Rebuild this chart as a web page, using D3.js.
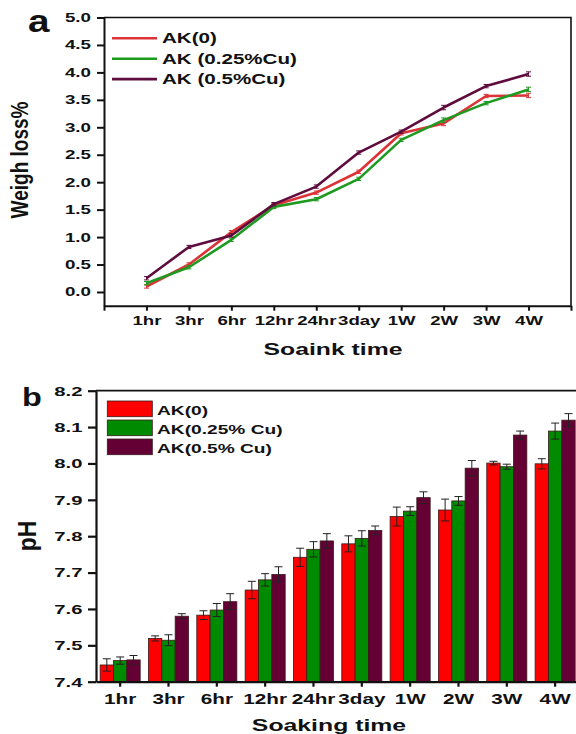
<!DOCTYPE html>
<html>
<head>
<meta charset="utf-8">
<script src="https://cdn.jsdelivr.net/npm/d3@7/dist/d3.min.js"></script>
<style>
  body { margin: 0; background: #fff; }
  svg text { font-family: "Liberation Sans", Arial, sans-serif; font-weight: bold; fill: #111; }
</style>
</head>
<body>
<div id="chart"></div>
<script>
// soaking time categories (shared by both panels)
const times = ["1hr", "3hr", "6hr", "12hr", "24hr", "3day", "1W", "2W", "3W", "4W"];

// panel a: weight loss %
const lossNames = ["AK(0)", "AK (0.25%Cu)", "AK (0.5%Cu)"];
const lossAK0   = [0.10, 0.50, 1.09, 1.58, 1.81, 2.19, 2.89, 3.07, 3.57, 3.58];
const lossAK025 = [0.16, 0.45, 0.95, 1.55, 1.69, 2.06, 2.77, 3.13, 3.44, 3.69];
const lossAK05  = [0.25, 0.82, 1.03, 1.60, 1.92, 2.54, 2.92, 3.36, 3.75, 3.97];
const lossErr   = [0.03, 0.03, 0.03, 0.03, 0.03, 0.03, 0.03, 0.04, 0.03, 0.04];
const lossTicks = [0, 0.5, 1, 1.5, 2, 2.5, 3, 3.5, 4, 4.5, 5];

// panel b: pH
const phNames = ["AK(0)", "AK(0.25% Cu)", "AK(0.5% Cu)"];
const phAK0   = [7.446, 7.519, 7.583, 7.652, 7.742, 7.779, 7.854, 7.872, 8.001, 7.999];
const phAK025 = [7.458, 7.514, 7.597, 7.680, 7.764, 7.794, 7.869, 7.897, 7.991, 8.089];
const phAK05  = [7.460, 7.580, 7.620, 7.695, 7.787, 7.816, 7.906, 7.987, 8.078, 8.119];
const phErrAK0   = [0.017, 0.007, 0.012, 0.024, 0.025, 0.022, 0.026, 0.030, 0.005, 0.014];
const phErrAK025 = [0.010, 0.015, 0.018, 0.017, 0.021, 0.021, 0.012, 0.012, 0.007, 0.022];
const phErrAK05  = [0.012, 0.007, 0.022, 0.021, 0.020, 0.012, 0.016, 0.021, 0.011, 0.018];
const phTicks = [7.4, 7.5, 7.6, 7.7, 7.8, 7.9, 8.0, 8.1, 8.2];

const lineColors = ["#dc3338", "#1f9a20", "#5e0b3d"];
const barColors = ["#ff0000", "#008a00", "#650034"];

const svg = d3.select("#chart").append("svg")
  .attr("width", 576).attr("height", 734);

// the source picture is stretched sideways, so text is scaled in x
function stext(g, x, y, str, size, sx, anchor) {
  return g.append("text")
    .attr("transform", "translate(" + x + "," + y + ") scale(" + sx + ",1)")
    .attr("text-anchor", anchor || "start")
    .style("font-size", size + "px")
    .text(str);
}

// ---------- panel a ----------
let xa = d3.scaleLinear().domain([0, 11]).range([104, 571]);
let ya = d3.scaleLinear().domain([-0.25, 5]).range([305.7, 17.5]);
let ga = svg.append("g");

// frame top/right
ga.append("path")
  .attr("d", "M" + xa(0) + "," + ya(5) + "H" + xa(11) + "V" + ya(-0.25))
  .attr("fill", "none").attr("stroke", "#111").attr("stroke-width", 1.6);

let axA_y = ga.append("g")
  .attr("transform", "translate(" + xa(0) + ",0)")
  .call(d3.axisLeft(ya).tickValues(lossTicks).tickFormat(d3.format(".1f")).tickSize(7).tickSizeOuter(0));
axA_y.selectAll("text")
  .attr("x", -13 / 1.5).attr("transform", "scale(1.5,1)")
  .style("font-size", "12.5px");

let axA_x = ga.append("g")
  .attr("transform", "translate(0," + ya(-0.25) + ")")
  .call(d3.axisBottom(xa).tickValues(d3.range(0, 12)).tickFormat(i => (i >= 1 && i <= 10) ? times[i - 1] : "").tickSize(5).tickSizeOuter(0));
axA_x.selectAll("text")
  .attr("y", 10).attr("transform", "scale(1.43,1)")
  .style("font-size", "13px");
ga.selectAll(".domain, .tick line").attr("stroke", "#111").attr("stroke-width", 2);

[lossAK0, lossAK025, lossAK05].forEach((vals, s) => {
  ga.append("path")
    .datum(vals)
    .attr("fill", "none")
    .attr("stroke", lineColors[s])
    .attr("stroke-width", 2.6)
    .attr("stroke-linejoin", "round")
    .attr("d", d3.line().x((d, i) => xa(i + 1)).y(d => ya(d)));
  ga.append("g").selectAll("path")
    .data(vals)
    .join("path")
    .attr("fill", "none").attr("stroke", lineColors[s]).attr("stroke-width", 1)
    .attr("d", (d, i) => {
      let cx = xa(i + 1), t = ya(d + lossErr[i]), b = ya(d - lossErr[i]);
      return "M" + (cx - 2.5) + "," + t + "H" + (cx + 2.5) + "M" + cx + "," + t + "V" + b + "M" + (cx - 2.5) + "," + b + "H" + (cx + 2.5);
    });
});

// legend a
lossNames.forEach((name, s) => {
  let ly = 38.3 + s * 20.4;
  ga.append("line").attr("x1", 112).attr("x2", 157).attr("y1", ly).attr("y2", ly)
    .attr("stroke", lineColors[s]).attr("stroke-width", 2.6);
  stext(ga, 162, ly + 5, name, 14, 1.47);
});

stext(ga, 28, 32, "a", 31, 1.25);
stext(ga, 333, 355, "Soaink time", 16.5, 1.5, "middle");
ga.append("text")
  .attr("transform", "translate(28.4,160) scale(1.22,1) rotate(-90)")
  .attr("text-anchor", "middle")
  .style("font-size", "19px")
  .text("Weigh loss%");

// ---------- panel b ----------
let xb = d3.scaleBand().domain(times).range([96, 579.3]).padding(0);
let xs = d3.scaleBand().domain([0, 1, 2]).range([0, xb.bandwidth()]).paddingOuter(0.31).paddingInner(0);
let yb = d3.scaleLinear().domain([7.4, 8.2]).range([681.7, 390.7]);
let gb = svg.append("g");

gb.append("line").attr("x1", 96).attr("x2", 580).attr("y1", yb(8.2)).attr("y2", yb(8.2))
  .attr("stroke", "#111").attr("stroke-width", 1.8);

const phVals = [phAK0, phAK025, phAK05];
const phErrs = [phErrAK0, phErrAK025, phErrAK05];
phVals.forEach((vals, s) => {
  gb.append("g").selectAll("rect")
    .data(vals)
    .join("rect")
    .attr("x", (d, i) => xb(times[i]) + xs(s))
    .attr("width", xs.bandwidth())
    .attr("y", d => yb(d))
    .attr("height", d => yb(7.4) - yb(d))
    .attr("fill", barColors[s])
    .attr("stroke", "#3a1a1a").attr("stroke-width", 0.8);
});
phVals.forEach((vals, s) => {
  gb.append("g").selectAll("path")
    .data(vals)
    .join("path")
    .attr("fill", "none").attr("stroke", "#222").attr("stroke-width", 1)
    .attr("d", (d, i) => {
      let cx = xb(times[i]) + xs(s) + xs.bandwidth() / 2;
      let t = yb(d + phErrs[s][i]), b = yb(d - phErrs[s][i]);
      return "M" + (cx - 4) + "," + t + "H" + (cx + 4) + "M" + cx + "," + t + "V" + b + "M" + (cx - 4) + "," + b + "H" + (cx + 4);
    });
});

let axB_y = gb.append("g")
  .attr("transform", "translate(96,0)")
  .call(d3.axisLeft(yb).tickValues(phTicks).tickFormat(d3.format(".1f")).tickSize(8).tickSizeOuter(0));
axB_y.selectAll("text")
  .attr("x", -13.5 / 1.5).attr("transform", "scale(1.5,1)")
  .style("font-size", "13.5px");

let axB_x = gb.append("g")
  .attr("transform", "translate(0," + yb(7.4) + ")")
  .call(d3.axisBottom(xb).tickSize(5).tickSizeOuter(0));
axB_x.selectAll("text")
  .attr("y", 12).attr("transform", "scale(1.38,1)")
  .style("font-size", "15px");
gb.selectAll(".domain, .tick line").attr("stroke", "#111").attr("stroke-width", 2.2);

// legend b
phNames.forEach((name, s) => {
  let ty = 401 + s * 19;
  gb.append("rect").attr("x", 107.3).attr("y", ty).attr("width", 45).attr("height", 15.7)
    .attr("fill", barColors[s]).attr("stroke", "#3a1a1a").attr("stroke-width", 0.8);
  stext(gb, 157, ty + 13.5, name, 13.5, 1.42);
});

stext(gb, 22, 406, "b", 25, 1.3);
stext(gb, 329, 731, "Soaking time", 16, 1.55, "middle");
gb.append("text")
  .attr("transform", "translate(36,536) scale(1.16,1) rotate(-90)")
  .attr("text-anchor", "middle")
  .style("font-size", "23px")
  .text("pH");
</script>
</body>
</html>
